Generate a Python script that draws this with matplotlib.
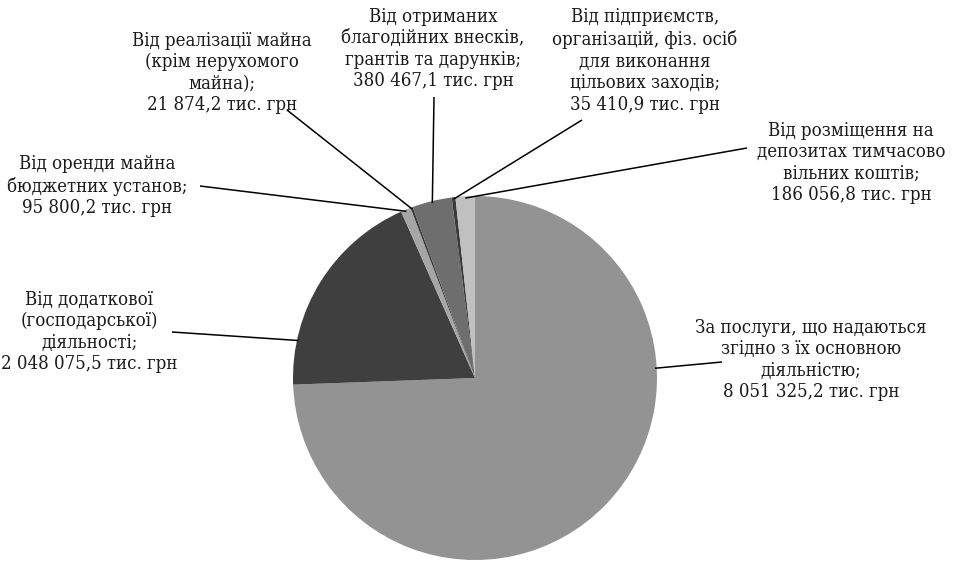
import numpy as np
import matplotlib.pyplot as plt

plt.rcParams['font.family'] = ['DejaVu Serif']

# Data (тис. грн)
labels = [
    "За послуги, що надаються\nзгідно з їх основною\nдіяльністю;",
    "Від додаткової\n(господарської)\nдіяльності;",
    "Від оренди майна\nбюджетних установ;",
    "Від реалізації майна\n(крім нерухомого\nмайна);",
    "Від отриманих\nблагодійних внесків,\nгрантів та дарунків;",
    "Від підприємств,\nорганізацій, фіз. осіб\nдля виконання\nцільових заходів;",
    "Від розміщення на\nдепозитах тимчасово\nвільних коштів;",
]
values = [8051325.2, 2048075.5, 95800.2, 21874.2, 380467.1, 35410.9, 186056.8]
value_text = ["8 051 325,2", "2 048 075,5", "95 800,2", "21 874,2",
              "380 467,1", "35 410,9", "186 056,8"]
colors = ["#939393", "#3f3f3f", "#a6a6a6", "#3a3a3a", "#6e6e6e", "#3a3a3a", "#c0c0c0"]

# layout in pixel units of the 955x562 picture
W, H = 955, 562
cx, cy, R = 475, 378, 182
text_pos = [(811, 360), (89, 332), (97, 186), (222, 73), (433, 49), (645, 61), (851, 163)]
line_start = [(722, 362), (172, 332), (200, 186), (287, 110), (434, 97), (582, 120), (747, 148)]
anchor_override = {0: 3.1, 1: 168.0}  # degrees where the leader meets the pie

def to_data(p):
    return ((p[0] - cx) / R, (cy - p[1]) / R)

fig = plt.figure(figsize=(W / 100, H / 100), dpi=100)
ax = fig.add_axes([0, 0, 1, 1])

wedges, _ = ax.pie(values, colors=colors, startangle=90, counterclock=False,
                   radius=1.0, wedgeprops=dict(linewidth=0))
ax.set_aspect('auto')
ax.set_xlim(-cx / R, (W - cx) / R)
ax.set_ylim(-(H - cy) / R, cy / R)
ax.axis('off')

for i, w in enumerate(wedges):
    ang = anchor_override.get(i, (w.theta1 + w.theta2) / 2)
    ax_ = np.cos(np.radians(ang)) * 0.99
    ay_ = np.sin(np.radians(ang)) * 0.99
    sx, sy = to_data(line_start[i])
    ax.plot([sx, ax_], [sy, ay_], color="black", lw=1.1, solid_capstyle='butt')
    tx, ty = to_data(text_pos[i])
    ax.text(tx, ty, labels[i] + "\n" + value_text[i] + " тис. грн",
            ha="center", va="center", fontsize=13.3, linespacing=1.25,
            fontstretch='condensed', color="#1a1a1a")

fig.savefig("out.png", dpi=100)
